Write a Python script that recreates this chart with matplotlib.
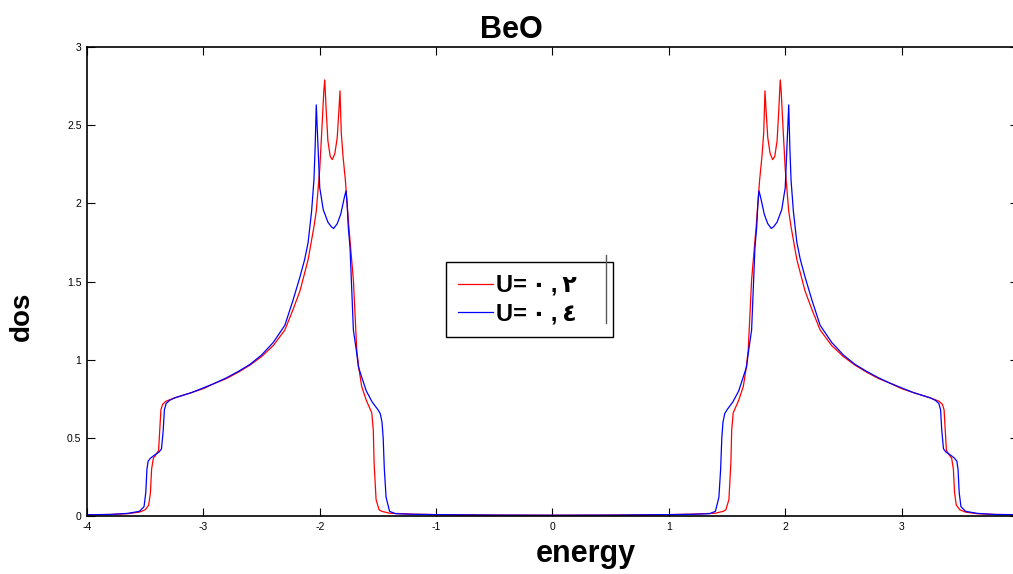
import matplotlib
matplotlib.use("Agg")
import matplotlib.pyplot as plt
import numpy as np

plt.rcParams['font.family'] = ['Liberation Sans', 'DejaVu Sans']
plt.rcParams['axes.unicode_minus'] = False

# datos (mitad negativa, la otra mitad es simetrica)
e_red = [-4.00, -3.80, -3.65, -3.55, -3.50, -3.47, -3.455, -3.445, -3.43, -3.41,
         -3.385, -3.375, -3.365, -3.35, -3.32, -3.25, -3.10, -3.00, -2.90, -2.80,
         -2.70, -2.60, -2.50, -2.40, -2.30, -2.23, -2.17, -2.10, -2.05, -2.03,
         -2.00, -1.98, -1.965, -1.957, -1.945, -1.93, -1.91, -1.892, -1.87, -1.85,
         -1.835, -1.826, -1.815, -1.80, -1.78, -1.75, -1.711, -1.682, -1.665, -1.64,
         -1.60, -1.553, -1.54, -1.533, -1.516, -1.49, -1.467, -1.40, -1.20, -1.00,
         -0.50, 0.0]
dos_red = [0.008, 0.010, 0.015, 0.025, 0.04, 0.07, 0.15, 0.30, 0.37, 0.39,
           0.42, 0.55, 0.68, 0.715, 0.735, 0.755, 0.79, 0.815, 0.85, 0.88,
           0.92, 0.965, 1.02, 1.09, 1.19, 1.32, 1.44, 1.64, 1.85, 1.95,
           2.22, 2.50, 2.72, 2.79, 2.60, 2.40, 2.30, 2.28, 2.32, 2.42,
           2.60, 2.72, 2.45, 2.30, 2.15, 1.85, 1.51, 1.06, 0.95, 0.83,
           0.74, 0.66, 0.55, 0.34, 0.105, 0.04, 0.03, 0.018, 0.012, 0.009,
           0.006, 0.005]

e_blue = [-4.00, -3.80, -3.65, -3.55, -3.51, -3.495, -3.485, -3.475, -3.455, -3.42,
          -3.38, -3.36, -3.345, -3.335, -3.32, -3.29, -3.25, -3.10, -3.00, -2.90,
          -2.80, -2.70, -2.60, -2.50, -2.40, -2.30, -2.23, -2.17, -2.13, -2.10,
          -2.07, -2.05, -2.04, -2.03, -2.02, -2.00, -1.97, -1.93, -1.90, -1.88,
          -1.85, -1.82, -1.80, -1.785, -1.774, -1.765, -1.755, -1.74, -1.711, -1.682,
          -1.668, -1.64, -1.60, -1.55, -1.50, -1.48, -1.465, -1.455, -1.445, -1.43,
          -1.40, -1.35, -1.20, -1.00, -0.50, 0.0]
dos_blue = [0.008, 0.010, 0.017, 0.03, 0.06, 0.15, 0.30, 0.35, 0.37, 0.39,
            0.41, 0.43, 0.55, 0.68, 0.72, 0.74, 0.755, 0.79, 0.82, 0.85,
            0.885, 0.925, 0.97, 1.03, 1.11, 1.22, 1.38, 1.53, 1.64, 1.75,
            1.95, 2.15, 2.35, 2.63, 2.45, 2.10, 1.96, 1.88, 1.85, 1.84,
            1.87, 1.93, 2.00, 2.05, 2.08, 2.00, 1.85, 1.72, 1.19, 1.04,
            0.955, 0.89, 0.80, 0.73, 0.68, 0.655, 0.60, 0.50, 0.30, 0.12,
            0.03, 0.015, 0.011, 0.009, 0.006, 0.005]

labels = ["U=\u2009\u0660\u2009,\u2009\u0662", "U=\u2009\u0660\u2009,\u2009\u0664"]

def simetrico(e, d):
    e = np.array(e)
    d = np.array(d)
    return np.concatenate([e, -e[::-1][1:]]), np.concatenate([d, d[::-1][1:]])

xr, yr = simetrico(e_red, dos_red)
xb, yb = simetrico(e_blue, dos_blue)

W, H = 1013, 574
fig = plt.figure(figsize=(W / 100, H / 100), dpi=100)
ax = fig.add_axes([0.0859, 0.101, 0.919, 0.817])
ax.plot(xr, yr, color="#ff0000", lw=0.9, label=labels[0])
ax.plot(xb, yb, color="#0000ff", lw=0.9, label=labels[1])

ax.set_xlim(-4, 4)
ax.set_ylim(0, 3)
ax.set_xticks(range(-4, 4))
ax.set_yticks([0, 0.5, 1, 1.5, 2, 2.5, 3])
ax.set_yticklabels(["0", "0.5", "1", "1.5", "2", "2.5", "3"])
ax.tick_params(direction="in", top=True, right=True, length=6, width=0.8,
               labelsize=7.5, pad=4)
for s in ax.spines.values():
    s.set_linewidth(1.2)

# titulo y etiquetas colocados a mano como en la figura original
fig.text(511 / W, 1 - 38 / H, "BeO", fontsize=22, fontweight="bold", ha="center", va="baseline")
fig.text(586 / W, 1 - 562 / H, "energy", fontsize=22, fontweight="bold", ha="center", va="baseline")
fig.text(22 / W, 1 - 316 / H, "dos", fontsize=20, fontweight="bold", ha="center", va="center",
         rotation=90)

leg = ax.legend(loc="upper left", bbox_to_anchor=(0.3856, 0.390, 0.179, 0.1516),
                mode="expand", borderaxespad=0,
                fancybox=False, edgecolor="black", framealpha=1, handlelength=1.5,
                handletextpad=0.12, borderpad=0.5, labelspacing=0.22,
                prop={"weight": "bold", "size": 17})
leg.get_frame().set_linewidth(1.0)
# linea suelta junto a la leyenda
ax.plot([0.5571, 0.5571], [0.5566, 0.4115], transform=ax.transAxes, color="0.35", lw=1.0,
        zorder=6)

fig.savefig("out.png", dpi=100)
